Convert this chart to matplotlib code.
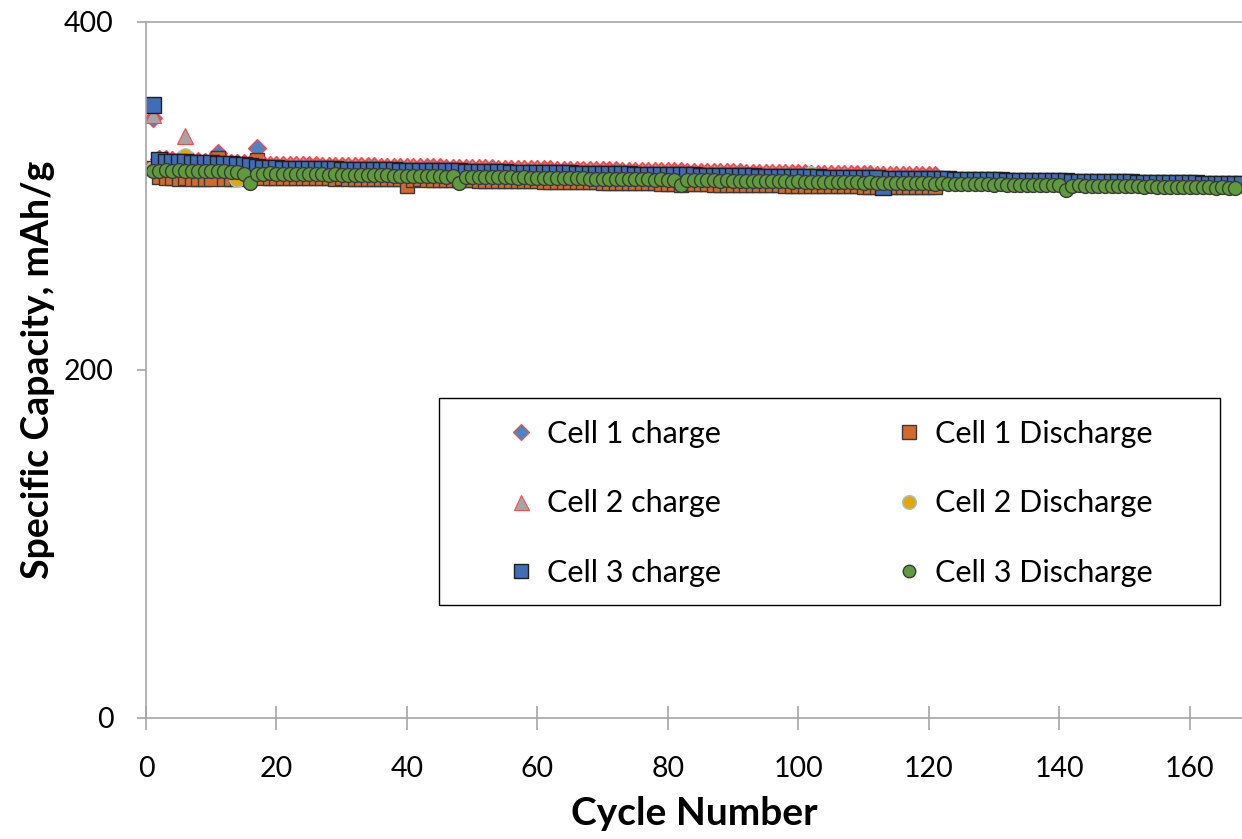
import numpy as np
import matplotlib.pyplot as plt
from matplotlib.patches import Rectangle

plt.rcParams['font.family'] = ['Lato', 'DejaVu Sans']

# specific capacity (mAh/g) per cycle
cell1_charge = [
    345.0, 321.4, 321.0, 320.8, 320.5, 320.3, 320.0, 319.9, 319.7, 319.6,
    324.6, 319.3, 319.1, 318.9, 318.7, 318.5, 327.6, 318.2, 318.1, 318.0,
    317.9, 317.9, 317.8, 317.7, 317.7, 317.6, 317.5, 317.5, 317.4, 317.3,
    317.3, 317.2, 317.1, 317.1, 317.0, 316.9, 316.9, 316.8, 316.7, 316.7,
    316.6, 316.5, 316.5, 316.4, 316.4, 316.3, 316.2, 316.2, 316.1, 316.0,
    316.0, 315.9, 315.9, 315.8, 315.7, 315.7, 315.6, 315.5, 315.5, 315.4,
    315.4, 315.3, 315.2, 315.2, 315.1, 315.1, 315.0, 314.9, 314.9, 314.8,
    314.8, 314.7, 314.6, 314.6, 314.5, 314.5, 314.4, 314.3, 314.3, 314.2,
    314.2, 314.1, 314.0, 314.0, 313.9, 313.9, 313.8, 313.7, 313.7, 313.6,
    313.6, 313.5, 313.4, 313.4, 313.3, 313.3, 313.2, 313.1, 313.1, 313.0,
    313.0, 312.9, 312.8, 312.8, 312.7, 312.7, 312.6, 312.5, 312.5, 312.4,
    312.4, 312.3, 312.2, 312.2, 312.1, 312.1, 312.0, 311.9, 311.9, 311.8,
    311.8]
cell1_discharge = [
    316.0, 310.8, 310.4, 310.2, 310.0, 310.1, 309.9, 309.8, 309.9, 309.7,
    321.8, 309.9, 309.8, 309.6, 310.2, 310.3, 320.7, 310.6, 310.5, 310.6,
    310.4, 310.5, 310.3, 310.4, 310.2, 310.3, 310.1, 310.2, 310.0, 310.1,
    309.9, 310.0, 309.8, 309.9, 309.7, 309.8, 309.6, 309.7, 309.5, 305.6,
    309.4, 309.5, 309.3, 309.4, 309.2, 309.3, 309.1, 309.2, 309.0, 309.1,
    308.9, 308.9, 308.8, 308.8, 308.7, 308.7, 308.6, 308.5, 308.5, 308.4,
    308.3, 308.3, 308.2, 308.1, 308.1, 308.0, 307.9, 307.9, 307.8, 307.7,
    307.7, 307.6, 307.5, 307.5, 307.4, 307.3, 307.3, 307.2, 307.1, 307.1,
    307.0, 306.6, 306.9, 306.8, 306.8, 306.7, 306.6, 306.6, 306.5, 306.4,
    306.4, 306.3, 306.3, 306.2, 306.2, 306.1, 306.1, 306.0, 306.0, 305.9,
    305.9, 305.8, 305.8, 305.7, 305.7, 305.6, 305.6, 305.5, 305.5, 305.4,
    305.4, 305.3, 305.3, 305.2, 305.2, 305.1, 305.1, 305.0, 305.0, 304.9,
    304.9]
cell2_charge = [
    346.6, 321.6, 321.3, 321.0, 320.8, 334.5, 320.4, 320.2, 320.1, 319.9,
    319.8, 319.6, 319.5, 319.3, 319.2, 319.0, 318.9, 318.7, 318.6, 318.5,
    318.4, 318.3, 318.3, 318.2, 318.1, 318.1, 318.0, 317.9, 317.9, 317.8,
    317.7, 317.7, 317.6, 317.5, 317.5, 317.4, 317.3, 317.3, 317.2, 317.1,
    317.1, 317.0, 316.9, 316.9, 316.8, 316.7, 316.7, 316.6, 316.5, 316.5,
    316.4, 316.4, 316.3, 316.2, 316.2, 316.1, 316.1, 316.0, 315.9, 315.9,
    315.8, 315.8, 315.7, 315.6, 315.6, 315.5, 315.5, 315.4, 315.3, 315.3,
    315.2, 315.2, 315.1, 315.0, 315.0, 314.9, 314.9, 314.8, 314.7, 314.7,
    314.6, 314.6, 314.5, 314.4, 314.4, 314.3, 314.3, 314.2, 314.1, 314.1,
    314.0, 314.0, 313.9, 313.8, 313.8, 313.7, 313.7, 313.6, 313.5, 313.5,
    313.4, 313.4, 313.3, 313.2, 313.2, 313.1, 313.1, 313.0, 312.9, 312.9,
    312.8, 312.8, 312.7, 312.6, 312.6, 312.5, 312.5, 312.4, 312.3, 312.3,
    312.2]
cell2_discharge = [
    315.5, 315.3, 315.4, 315.2, 315.3, 323.2, 315.1, 315.0, 315.1, 314.9,
    314.8, 314.8, 314.6, 309.8, 314.2, 313.6, 313.4, 313.5, 313.6, 313.5,
    313.5, 313.4, 313.3, 313.3, 313.2, 313.2, 313.1, 313.0, 313.1, 312.9,
    312.8, 312.9, 312.7, 312.7, 312.7, 312.6, 312.6, 312.5, 312.4, 312.4,
    312.3, 312.3, 312.2, 312.1, 312.1, 312.0, 312.0, 311.9, 311.8, 311.9,
    311.7, 311.6, 311.7, 311.5, 311.6, 311.4, 311.3, 311.4, 311.2, 311.3,
    311.1, 311.2, 311.0, 310.9, 311.0, 310.8, 310.9, 310.7, 310.6, 310.7,
    310.5, 310.6, 310.4, 310.5, 310.3, 310.2, 310.3, 310.1, 310.2, 310.0,
    310.1, 309.9, 309.9, 310.0, 309.8, 309.7, 309.8, 309.6, 309.7, 309.5,
    309.6, 309.4, 309.5, 309.3, 309.2, 309.3, 309.1, 309.2, 309.0, 309.1,
    308.9, 312.8, 308.8, 308.7, 308.8, 308.6, 308.7, 308.5, 308.6, 308.4,
    308.5, 308.3, 308.4, 308.2, 308.1, 308.2, 308.0, 308.1, 307.9, 308.0,
    307.9]
cell3_charge = [
    352.5, 320.9, 319.7, 319.5, 319.4, 319.3, 319.1, 319.0, 318.8, 318.7,
    318.5, 318.4, 318.2, 318.0, 317.7, 317.3, 316.6, 316.2, 316.0, 315.9,
    315.8, 315.8, 315.7, 315.6, 315.6, 315.5, 315.4, 315.4, 315.3, 315.2,
    315.2, 315.1, 315.0, 315.0, 314.9, 314.8, 314.8, 314.7, 314.6, 314.6,
    314.5, 314.4, 314.4, 314.3, 314.3, 314.2, 314.1, 314.1, 314.0, 313.9,
    313.9, 313.8, 313.7, 313.7, 313.6, 313.5, 313.5, 313.4, 313.3, 313.3,
    313.2, 313.2, 313.1, 313.0, 313.0, 312.9, 312.8, 312.8, 312.7, 312.7,
    312.6, 312.5, 312.5, 312.4, 312.3, 312.3, 312.2, 312.2, 312.1, 312.0,
    312.0, 311.9, 311.9, 311.8, 311.7, 311.7, 311.6, 311.6, 311.5, 311.4,
    311.4, 311.3, 311.3, 311.2, 311.1, 311.1, 311.0, 311.0, 310.9, 310.8,
    310.8, 310.7, 310.7, 310.6, 310.5, 310.5, 310.4, 310.4, 310.3, 310.2,
    310.2, 310.1, 305.2, 310.0, 309.9, 309.9, 309.8, 309.8, 309.7, 309.6,
    309.6, 309.5, 309.5, 309.4, 309.3, 309.3, 309.2, 309.2, 309.1, 309.0,
    309.0, 308.9, 308.9, 308.8, 308.7, 308.7, 308.6, 308.6, 308.5, 308.4,
    308.4, 308.3, 308.3, 308.2, 308.1, 308.1, 308.0, 308.0, 307.9, 307.8,
    307.8, 307.7, 307.7, 307.6, 307.5, 307.5, 307.4, 307.4, 307.3, 307.2,
    307.2, 307.1, 307.1, 307.0, 306.9, 306.9, 306.8, 306.8]
cell3_discharge = [
    314.2, 314.6, 314.8, 314.6, 314.7, 314.5, 314.4, 314.5, 314.3, 314.2,
    314.1, 314.1, 313.8, 313.9, 312.9, 307.6, 312.4, 312.9, 313.1, 312.8,
    312.9, 312.7, 312.6, 312.7, 312.5, 312.6, 312.4, 312.3, 312.4, 312.2,
    312.1, 312.2, 312.0, 311.9, 312.0, 311.8, 311.9, 311.7, 311.6, 311.7,
    311.5, 311.6, 311.4, 311.5, 311.3, 311.2, 311.3, 307.3, 311.1, 311.2,
    311.0, 310.9, 311.0, 310.8, 310.9, 310.7, 310.6, 310.7, 310.5, 310.6,
    310.4, 310.5, 310.3, 310.2, 310.3, 310.1, 310.2, 310.0, 309.9, 310.0,
    309.8, 309.9, 309.7, 309.8, 309.6, 309.5, 309.6, 309.4, 309.5, 309.3,
    309.4, 306.4, 309.2, 309.3, 309.1, 309.0, 309.1, 308.9, 309.0, 308.8,
    308.9, 308.7, 308.8, 308.6, 308.5, 308.6, 308.4, 308.5, 308.3, 308.4,
    308.2, 308.3, 308.1, 308.0, 308.1, 307.9, 308.0, 307.8, 307.9, 307.7,
    307.8, 307.6, 307.7, 307.5, 307.4, 307.5, 307.3, 307.4, 307.2, 307.3,
    307.1, 307.2, 307.0, 307.1, 306.9, 306.8, 306.9, 306.7, 306.8, 306.6,
    306.7, 306.5, 306.6, 306.4, 306.5, 306.3, 306.2, 306.3, 306.1, 306.2,
    303.6, 306.0, 306.1, 305.9, 306.0, 305.8, 305.7, 305.8, 305.6, 305.7,
    305.5, 305.6, 305.4, 305.5, 305.3, 305.4, 305.2, 305.1, 305.2, 305.0,
    305.1, 304.9, 305.0, 304.8, 304.9, 304.8, 304.7]

labels = ['Cell 1 charge', 'Cell 1 Discharge', 'Cell 2 charge',
          'Cell 2 Discharge', 'Cell 3 charge', 'Cell 3 Discharge']
series = [cell1_charge, cell1_discharge, cell2_charge,
          cell2_discharge, cell3_charge, cell3_discharge]
markers = ['D', 's', '^', 'o', 's', 'o']
sizes = [9.5, 10.5, 12, 11, 11, 10]
faces = ['#4A86C4', '#D4692A', '#A5A5A5', '#E3A800', '#3F6DB8', '#5E9B3B']
edges = ['#FF4848', '#3A3A3A', '#FF4848', '#9DC3E6', '#1F1F1F', '#3A3A3A']
edge_w = [0.9, 1.0, 0.8, 1.0, 1.0, 1.0]

fig = plt.figure(figsize=(12.42, 8.39), dpi=100)
ax = fig.add_axes([146/1242, 1-718/839, 1096/1242, 696/839])

handles = []
for vals, lab, m, s, fc, ec, ew in zip(series, labels, markers, sizes,
                                       faces, edges, edge_w):
    cyc = np.arange(1, len(vals)+1)
    h, = ax.plot(cyc, vals, linestyle='none', marker=m, markersize=s,
                 markerfacecolor=fc, markeredgecolor=ec, markeredgewidth=ew,
                 label=lab)
    handles.append(h)

ax.set_xlim(0, 168)
ax.set_ylim(0, 400)
ax.set_xticks(range(0, 161, 20))
ax.set_yticks([0, 200, 400])

axis_grey = '#A6A6A6'
for side in ['left', 'bottom', 'top']:
    ax.spines[side].set_color(axis_grey)
    ax.spines[side].set_linewidth(1.2)
ax.spines['right'].set_visible(False)

ax.tick_params(axis='x', direction='inout', length=17, width=1.2,
               color=axis_grey, labelsize=20.5, pad=19)
ax.tick_params(axis='y', direction='out', length=6.5, width=1.2,
               color=axis_grey, labelsize=20.5, pad=17)

ax.set_xlabel('Cycle Number', fontsize=28, fontweight='bold', labelpad=10)
ax.set_ylabel('Specific Capacity, mAh/g', fontsize=27, fontweight='bold',
              labelpad=6)

# legend box, entries filled row by row like the original
ax.add_patch(Rectangle((0.267, 0.162), 0.713, 0.298, transform=ax.transAxes,
                       facecolor='white', edgecolor='black', linewidth=1.0,
                       zorder=4))
order = [0, 2, 4, 1, 3, 5]
leg = ax.legend(handles=[handles[i] for i in order], ncol=2, loc='upper left',
                bbox_to_anchor=(0.3285, 0.428, 0.59, 0.0), mode='expand',
                frameon=False, fontsize=22, handlelength=1.0,
                handletextpad=0.35, labelspacing=1.35, borderpad=0,
                borderaxespad=0, markerscale=0.9)
leg.set_zorder(5)

plt.savefig('out.png', dpi=100)
